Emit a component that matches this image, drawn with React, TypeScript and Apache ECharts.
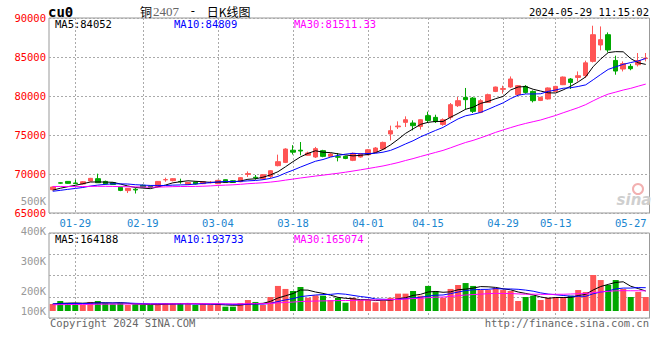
import React, { useEffect, useRef } from 'react';
import * as echarts from 'echarts';

// ---------- data ----------
const dates = [
  '01-24', '01-25', '01-26', '01-29', '01-30', '01-31', '02-01', '02-02', '02-05', '02-06',
  '02-07', '02-08', '02-19', '02-20', '02-21', '02-22', '02-23', '02-26', '02-27', '02-28',
  '02-29', '03-01', '03-04', '03-05', '03-06', '03-07', '03-08', '03-11', '03-12', '03-13',
  '03-14', '03-15', '03-18', '03-19', '03-20', '03-21', '03-22', '03-25', '03-26', '03-27',
  '03-28', '03-29', '04-01', '04-02', '04-03', '04-08', '04-09', '04-10', '04-11', '04-12',
  '04-15', '04-16', '04-17', '04-18', '04-19', '04-22', '04-23', '04-24', '04-25', '04-26',
  '04-29', '04-30', '05-06', '05-07', '05-08', '05-09', '05-10', '05-13', '05-14', '05-15',
  '05-16', '05-17', '05-20', '05-21', '05-22', '05-23', '05-24', '05-27', '05-28', '05-29',
];

const opens = [
  67990, 68870, 69050, 68850, 68720, 69100, 69400, 69050, 68880, 68300,
  67870, 68050, 68550, 68450, 68370, 69250, 69150, 69050, 68670, 68970,
  68760, 68880, 68760, 69270, 69140, 69010, 69950, 69580, 69400, 69690,
  71070, 71490, 73050, 73050, 72400, 72180, 72990, 72260, 72220, 72260,
  71750, 72180, 72470, 72770, 73200, 75130, 76050, 76620, 76540, 76100,
  77480, 77260, 76360, 77260, 78760, 79820, 79740, 77900, 79180, 80590,
  80850, 81150, 80170, 81230, 80590, 79430, 79620, 80590, 81450, 82180,
  82380, 82600, 84440, 86540, 87860, 84560, 83460, 83800, 84010, 84800,
];

const closes = [
  68330, 68830, 68800, 68780, 69010, 69440, 68880, 68720, 68650, 67900,
  68160, 67950, 68300, 68300, 69050, 69290, 69400, 69000, 68920, 68720,
  69010, 68950, 69180, 68920, 68920, 69530, 70050, 69500, 69910, 70420,
  71580, 73200, 72800, 72950, 72690, 73250, 72260, 72560, 72150, 72000,
  72650, 72600, 73110, 73330, 74050, 75550, 76150, 76960, 76190, 76960,
  76870, 76710, 76960, 78890, 79400, 79530, 78030, 79400, 80170, 81150,
  80950, 82180, 81320, 80460, 79400, 79820, 81030, 81230, 82430, 81740,
  82600, 84250, 87860, 87220, 85900, 83200, 84150, 83500, 84550, 84860,
];

const lows = [
  67900, 68750, 68750, 68700, 68650, 69050, 68850, 68650, 68600, 67800,
  67560, 67500, 68250, 68250, 68300, 69010, 69050, 68760, 68600, 68650,
  68700, 68800, 68700, 68880, 68880, 68950, 69620, 69270, 69300, 69440,
  70980, 71400, 72500, 72400, 72350, 72050, 72150, 72200, 71620, 71900,
  71650, 72100, 72400, 72700, 73100, 74310, 75770, 76030, 75600, 75700,
  76540, 76540, 76190, 76960, 78590, 78240, 77820, 77800, 79100, 80500,
  80300, 81030, 80100, 80300, 79180, 79350, 79550, 80500, 81400, 80900,
  81870, 82310, 84300, 85850, 85590, 82730, 83150, 83300, 83790, 84440,
];

const highs = [
  68400, 68950, 69100, 69270, 69100, 69500, 70040, 69150, 68950, 68350,
  68200, 68200, 68650, 68500, 69100, 69530, 69450, 69400, 69000, 69050,
  69100, 69100, 69250, 69300, 69200, 69600, 70330, 69870, 70000, 70500,
  72480, 73300, 73700, 74100, 72860, 73470, 73100, 72700, 72690, 72350,
  72750, 72700, 73200, 73450, 74150, 76200, 76750, 77390, 76880, 77000,
  77990, 77600, 77130, 79100, 79870, 81030, 79870, 79600, 80300, 81200,
  81320, 82510, 81400, 81400, 80720, 79900, 81100, 81300, 82500, 82300,
  83150, 84530, 89010, 88920, 88150, 85170, 84440, 84100, 85510, 85510,
];

const volumes = [
  58000, 83000, 66000, 66000, 50000, 75000, 83000, 66000, 56000, 66000,
  50000, 56000, 50000, 50000, 58000, 66000, 66000, 66000, 58000, 50000,
  58000, 50000, 58000, 36000, 36000, 66000, 91000, 75000, 50000, 116000,
  208000, 183000, 166000, 199000, 110000, 130000, 127000, 91000, 110000, 69000,
  110000, 91000, 91000, 72000, 83000, 110000, 144000, 144000, 166000, 127000,
  208000, 166000, 110000, 183000, 216000, 232000, 208000, 174000, 174000, 191000,
  174000, 166000, 83000, 116000, 127000, 91000, 110000, 116000, 116000, 127000,
  174000, 158000, 299000, 257000, 216000, 257000, 183000, 116000, 158000, 116000,
];

// closes / volumes of the 29 sessions before the window (estimated from where the MA lines start)
const prevCloses = [
  68900, 69100, 69000, 68800, 68700, 68600, 68900, 69000, 68700, 68500,
  68600, 68800, 68900, 68700, 68500, 68400, 68600, 68700, 68500, 68300,
  67700, 67500, 67600, 67800, 67650, 67600, 67800, 67900, 68000,
];
const prevVolumes = [
  48000, 52000, 45000, 50000, 47000, 55000, 49000, 46000, 51000, 48000,
  44000, 50000, 47000, 52000, 46000, 49000, 45000, 50000, 48000, 53000,
  56000, 60000, 55000, 58000, 62000, 57000, 54000, 59000, 61000,
];

const labelDates = ['01-29', '02-19', '03-04', '03-18', '04-01', '04-15', '04-29', '05-13', '05-27'];
const gridDates = ['01-29', '02-19', '03-04', '03-18', '04-01', '04-15', '04-29', '05-13'];
const priceMin = 65000;
const priceMax = 90000;
const priceStep = 5000;
const volTickLabels = ['100K', '200K', '300K', '400K', '500K'];
const maPeriods = [5, 10, 30];
const maNames = ['MA5', 'MA10', 'MA30'];
const mainMaValues = ['84052', '84809', '81511.33'];
const volMaValues = ['164188', '193733', '165074'];
const maColors = ['#000000', '#0000ff', '#ff00ff'];

const symbolText = 'cu0';
const titleParts = ['铜', '2407', ' - ', '日K线图'];
const timeText = '2024-05-29 11:15:02';
const copyrightText = 'Copyright 2024 SINA.COM';
const urlText = 'http://finance.sina.com.cn';

// ---------- helpers ----------
function movingAverage(hist: number[], vals: number[], n: number): number[] {
  const all = hist.concat(vals);
  const off = hist.length;
  return vals.map((_, i) => {
    let s = 0;
    for (let k = off + i - n + 1; k <= off + i; k++) s += all[k];
    return Math.round((s / n) * 100) / 100;
  });
}

const MONO = "'DejaVu Sans Mono', monospace";
const UP = '#ff5555';
const DOWN = '#00a800';
const GRID_LINE = '#aaaaaa';
const BORDER = '#999999';

export default function App() {
  const ref = useRef<HTMLDivElement>(null);

  useEffect(() => {
    document.body.style.margin = '0';
    if (!ref.current) return;
    const chart = echarts.init(ref.current, undefined, { renderer: 'svg' });

    const labelSet = new Set(labelDates.map((d) => dates.indexOf(d)));
    const gridSet = new Set(gridDates.map((d) => dates.indexOf(d)));

    const candleData = dates.map((_, i) => [opens[i], closes[i], lows[i], highs[i]]);
    const volData = volumes.map((v, i) => ({
      value: v,
      itemStyle: { color: closes[i] >= opens[i] ? UP : DOWN },
    }));

    const L = 49;
    const W = 600.5;
    const volPxPerUnit = 8300; // volume units per pixel
    const volMin = -7 * volPxPerUnit;
    const volMax = 78 * volPxPerUnit;

    const splitX = {
      show: true,
      alignWithLabel: true,
      interval: (i: number) => gridSet.has(i),
      lineStyle: { color: GRID_LINE, type: [2, 2] as any, width: 1 },
    };

    const series: any[] = [
      {
        type: 'candlestick',
        xAxisIndex: 0,
        yAxisIndex: 0,
        data: candleData,
        barWidth: 5,
        itemStyle: { color: UP, color0: DOWN, borderColor: UP, borderColor0: DOWN, borderWidth: 1 },
        silent: true,
      },
    ];
    maPeriods.forEach((p, k) => {
      series.push({
        type: 'line',
        xAxisIndex: 0,
        yAxisIndex: 0,
        data: movingAverage(prevCloses, closes, p),
        showSymbol: false,
        lineStyle: { color: maColors[k], width: 1 },
        silent: true,
      });
    });
    series.push({
      type: 'bar',
      xAxisIndex: 1,
      yAxisIndex: 1,
      data: volData,
      barWidth: 6,
      silent: true,
    });
    maPeriods.forEach((p, k) => {
      series.push({
        type: 'line',
        xAxisIndex: 1,
        yAxisIndex: 1,
        data: movingAverage(prevVolumes, volumes, p),
        showSymbol: false,
        lineStyle: { color: maColors[k], width: 1 },
        silent: true,
      });
    });

    const legendX = [55, 174, 294];
    const graphics: any[] = [
      {
        type: 'text',
        x: 48,
        y: 12,
        style: { text: symbolText, fill: '#000', font: `bold 14px ${MONO}`, verticalAlign: 'middle' },
      },
      {
        type: 'text',
        x: 140,
        y: 11,
        style: {
          text: `{a|${titleParts[0]}}{b|${titleParts[1]}}{c|${titleParts[2]}}{a|${titleParts[3]}}`,
          verticalAlign: 'middle',
          rich: {
            a: { fontFamily: "'Noto Sans CJK SC'", fontSize: 12, fill: '#000' },
            b: { fontFamily: "'Liberation Serif'", fontSize: 13, fill: '#666', padding: [0, 0, 0, 1] },
            c: { fontFamily: MONO, fontSize: 12, fill: '#000', padding: [0, 3, 0, 3] },
          },
        },
      },
      {
        type: 'text',
        x: 649,
        y: 12,
        style: { text: timeText, fill: '#000', font: `10.5px ${MONO}`, align: 'right', verticalAlign: 'middle' },
      },
      {
        type: 'text',
        x: 50,
        y: 323,
        style: { text: copyrightText, fill: '#666', font: `10.5px ${MONO}`, verticalAlign: 'middle' },
      },
      {
        type: 'text',
        x: 649,
        y: 323,
        style: { text: urlText, fill: '#666', font: `10.5px ${MONO}`, align: 'right', verticalAlign: 'middle' },
      },
      {
        type: 'circle',
        shape: { cx: 638, cy: 189, r: 5 },
        style: { fill: 'none', stroke: '#f2b0b0', lineWidth: 2 },
        z: 1,
      },
      {
        type: 'text',
        x: 634,
        y: 200,
        style: {
          text: 'sina',
          fill: '#cfcfcf',
          font: "italic bold 15px 'DejaVu Sans'",
          align: 'center',
          verticalAlign: 'middle',
        },
        z: 1,
      },
    ];
    maNames.forEach((n, k) => {
      graphics.push({
        type: 'text',
        x: legendX[k],
        y: 24,
        style: { text: `${n}:${mainMaValues[k]}`, fill: maColors[k], font: `10.5px ${MONO}`, verticalAlign: 'middle' },
        z: 10,
      });
      graphics.push({
        type: 'text',
        x: legendX[k],
        y: 238.5,
        style: { text: `${n}:${volMaValues[k]}`, fill: maColors[k], font: `10.5px ${MONO}`, verticalAlign: 'middle' },
        z: 10,
      });
    });

    const option: any = {
      animation: false,
      backgroundColor: '#ffffff',
      grid: [
        { left: L, width: W, top: 18, height: 195, show: true, borderColor: BORDER, borderWidth: 1, backgroundColor: 'transparent', outerBoundsMode: 'none', containLabel: false },
        { left: L, width: W, top: 233, height: 85, show: true, borderColor: BORDER, borderWidth: 1, backgroundColor: 'transparent', outerBoundsMode: 'none', containLabel: false },
        { left: L, width: W, top: 200.7, height: 150, show: false, outerBoundsMode: 'none', containLabel: false },
      ],
      xAxis: [
        {
          type: 'category',
          gridIndex: 0,
          data: dates,
          boundaryGap: true,
          axisLine: { show: false },
          axisTick: { show: false },
          axisLabel: {
            interval: (i: number) => labelSet.has(i),
            color: '#1a86d0',
            fontFamily: MONO,
            fontSize: 10.5,
            margin: 4,
          },
          splitLine: splitX,
        },
        {
          type: 'category',
          gridIndex: 1,
          data: dates,
          boundaryGap: true,
          axisLine: { show: false },
          axisTick: { show: false },
          axisLabel: { show: false },
          splitLine: splitX,
        },
        { type: 'category', gridIndex: 2, data: dates, show: false },
      ],
      yAxis: [
        {
          type: 'value',
          gridIndex: 0,
          min: priceMin,
          max: priceMax,
          interval: priceStep,
          axisLine: { show: false },
          axisTick: { show: false },
          axisLabel: {
            color: '#ff0000',
            fontFamily: MONO,
            fontSize: 10.5,
            margin: 3,
            formatter: (v: number) => String(v),
          },
          splitLine: { show: true, lineStyle: { color: GRID_LINE, type: [2, 2], width: 1 } },
        },
        {
          type: 'value',
          gridIndex: 1,
          min: volMin,
          max: volMax,
          show: false,
          splitLine: { show: false },
        },
        {
          type: 'value',
          gridIndex: 1,
          min: 0,
          max: 4,
          interval: 1,
          axisLine: { show: false },
          axisTick: { show: false },
          axisLabel: { show: false },
          splitLine: { show: true, lineStyle: { color: GRID_LINE, type: [2, 2], width: 1 } },
        },
        {
          type: 'value',
          gridIndex: 2,
          min: 0,
          max: 500000,
          interval: 100000,
          axisLine: { show: false },
          axisTick: { show: false },
          splitLine: { show: false },
          axisLabel: {
            color: '#999999',
            fontFamily: MONO,
            fontSize: 10.5,
            margin: 3,
            formatter: (v: number) => {
              const i = Math.round(v / 100000) - 1;
              if (i < 0) return '';
              return i === 0 ? `{up|${volTickLabels[i]}}` : volTickLabels[i];
            },
            rich: {
              up: { color: '#999999', fontFamily: MONO, fontSize: 10.5, padding: [0, 0, 20, 0] },
            },
          },
        },
      ],
      series,
      graphic: graphics,
    };

    chart.setOption(option);
    return () => chart.dispose();
  }, []);

  return <div ref={ref} style={{ position: 'absolute', left: 0, top: 0, width: 660, height: 360 }} />;
}
